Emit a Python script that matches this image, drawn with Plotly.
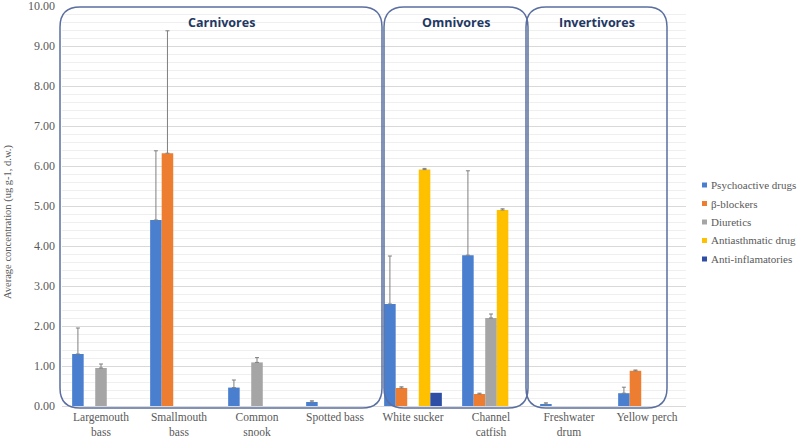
import plotly.graph_objects as go

categories = ["Largemouth<br>bass", "Smallmouth<br>bass", "Common<br>snook", "Spotted bass",
              "White sucker", "Channel<br>catfish", "Freshwater<br>drum", "Yellow perch"]

series_names = ["Psychoactive drugs", "β-blockers", "Diuretics", "Antiasthmatic drug", "Anti-inflamatories"]
series_colors = ["#4a7fcf", "#ed7d31", "#a5a5a5", "#ffc000", "#2e4ea6"]

psychoactive = [1.30, 4.65, 0.46, 0.10, 2.55, 3.77, 0.05, 0.32]
psychoactive_err = [0.65, 1.73, 0.19, 0.03, 1.20, 2.11, 0.03, 0.15]
beta_blockers = [None, 6.32, None, None, 0.45, 0.30, None, 0.88]
beta_blockers_err = [0, 3.06, 0, 0, 0.03, 0.02, 0, 0.02]
diuretics = [0.95, None, 1.09, None, None, 2.20, None, None]
diuretics_err = [0.10, 0, 0.12, 0, 0, 0.10, 0, 0]
antiasthmatic = [None, None, None, None, 5.91, 4.90, None, None]
antiasthmatic_err = [0, 0, 0, 0, 0.03, 0.03, 0, 0]
anti_inflam = [None, None, None, None, 0.33, None, None, None]
anti_inflam_err = [0, 0, 0, 0, 0, 0, 0, 0]

values = [psychoactive, beta_blockers, diuretics, antiasthmatic, anti_inflam]
errors = [psychoactive_err, beta_blockers_err, diuretics_err, antiasthmatic_err, anti_inflam_err]

groups = ["Carnivores", "Omnivores", "Invertivores"]
yticks = [0, 1, 2, 3, 4, 5, 6, 7, 8, 9, 10]
y_title = "Average concentration (ug g-1, d.w.)"

fig = go.Figure()
for name, col, v, e in zip(series_names, series_colors, values, errors):
    show_err = any(x > 0 for x in e)
    fig.add_trace(go.Bar(
        x=categories, y=v, name=name, marker_color=col, marker_line_width=0,
        showlegend=False,
        error_y=dict(type="data", symmetric=False, array=e, arrayminus=[0] * len(e),
                     color="#7f7f7f", thickness=1, width=2, visible=show_err),
    ))

L, R, T, B = 62, 114, 6, 38
W, H = 800 - L - R, 444 - T - B

def px2paper(px, py):
    return (px - L) / W, (444 - B - py) / H

def rounded_rect(x0p, y0p, x1p, y1p, r=20):
    # pixel coordinates -> paper path
    def P(x, y):
        a, b = px2paper(x, y)
        return f"{a:.5f},{b:.5f}"
    return (f"M {P(x0p + r, y0p)} L {P(x1p - r, y0p)} Q {P(x1p, y0p)} {P(x1p, y0p + r)} "
            f"L {P(x1p, y1p - r)} Q {P(x1p, y1p)} {P(x1p - r, y1p)} "
            f"L {P(x0p + r, y1p)} Q {P(x0p, y1p)} {P(x0p, y1p - r)} "
            f"L {P(x0p, y0p + r)} Q {P(x0p, y0p)} {P(x0p + r, y0p)} Z")

boxes = [(60, 7, 382, 408), (384, 7, 528, 408), (526, 7, 667, 408)]
shapes = []
annotations = []
for g, (x0, y0, x1, y1) in zip(groups, boxes):
    shapes.append(dict(type="path", xref="paper", yref="paper",
                       path=rounded_rect(x0, y0, x1, y1),
                       line=dict(color="#5a6fa0", width=1.5), fillcolor="rgba(0,0,0,0)"))
    cx, cy = px2paper((x0 + x1) / 2, 22)
    annotations.append(dict(text=f"<b>{g}</b>", x=cx, y=cy, xref="paper", yref="paper",
                            xanchor="center", yanchor="middle",
                            showarrow=False, font=dict(family="Open Sans", size=12.5, color="#1f3864")))

# legend (Excel-style small squares)
for i, (name, col) in enumerate(zip(series_names, series_colors)):
    yc = 185 + 18.5 * i
    ax0, ay0 = px2paper(702, yc + 2.5)
    ax1, ay1 = px2paper(707, yc - 2.5)
    shapes.append(dict(type="rect", xref="paper", yref="paper", x0=ax0, x1=ax1, y0=ay0, y1=ay1,
                       fillcolor=col, line=dict(width=0)))
    tx, ty = px2paper(709, yc)
    annotations.append(dict(text=name, x=tx, y=ty, xref="paper", yref="paper",
                            xanchor="left", yanchor="middle", showarrow=False,
                            font=dict(family="Liberation Serif", size=11, color="#595959")))

# y-axis title
tx, ty = px2paper(8, 222)
annotations.append(dict(text=y_title, x=tx, y=ty, xref="paper", yref="paper", textangle=-90,
                        xanchor="center", yanchor="middle", showarrow=False,
                        font=dict(family="Liberation Serif", size=10.5, color="#595959")))

fig.update_layout(
    width=800, height=444,
    margin=dict(l=L, r=R, t=T, b=B, autoexpand=False),
    paper_bgcolor="white", plot_bgcolor="white",
    barmode="group", bargap=0.26, bargroupgap=0,
    font=dict(family="Liberation Serif", color="#595959"),
    shapes=shapes, annotations=annotations,
    showlegend=False,
    xaxis=dict(showgrid=False, showline=True, linecolor="#d9d9d9", linewidth=1,
               tickfont=dict(family="Liberation Serif", size=11.5, color="#595959"), ticks=""),
    yaxis=dict(range=[0, 10], tickvals=yticks, tickformat=".2f", ticklabeloverflow="allow",
               ticklabelstandoff=6,
               showgrid=True, gridcolor="#d9d9d9", gridwidth=1,
               minor=dict(dtick=0.2, showgrid=True, gridcolor="#efefef", gridwidth=1),
               zeroline=False,
               tickfont=dict(family="Liberation Serif", size=12, color="#595959")),
)

fig.write_html("out.html", config={"displayModeBar": False},
               post_script="document.body.style.margin='0px';")
